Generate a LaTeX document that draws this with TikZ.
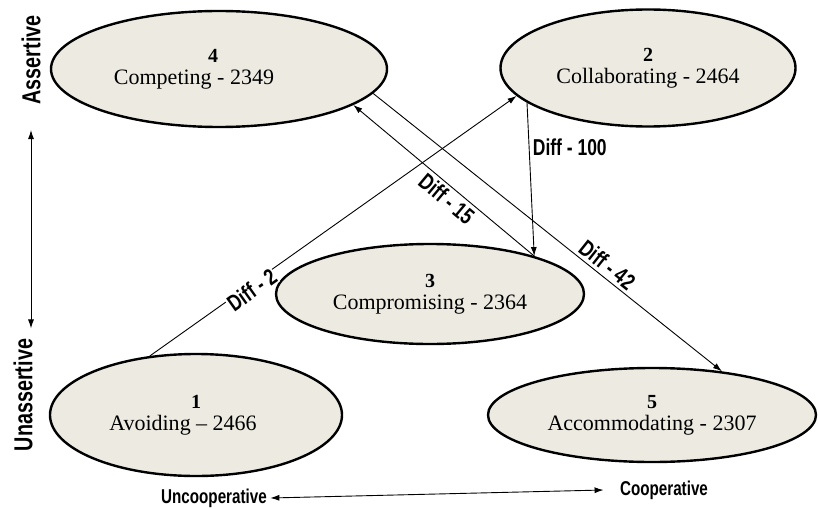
\documentclass[tikz,border=0pt]{standalone}
\usepackage{fontspec}
\setmainfont{Liberation Serif}
\newfontfamily\labelfont[FakeStretch=0.76]{Liberation Sans}
\usepackage{tikz}
\usetikzlibrary{shapes.geometric, arrows.meta, positioning}
\definecolor{modefill}{HTML}{EDEBE1}

\begin{document}
\begin{tikzpicture}[
    x=1pt, y=-1pt,
    mode/.style={ellipse, draw=black, fill=modefill, line width=2.4pt, inner sep=0pt, align=center, font=\fontsize{22}{22}\selectfont},
    diff/.style={font=\labelfont\bfseries\fontsize{23}{24}\selectfont},
    axis/.style={font=\labelfont\bfseries\fontsize{26}{28}\selectfont},
    arrow/.style={-{Latex[length=9pt,width=6pt]}, line width=0.9pt},
    both/.style={{Latex[length=9pt,width=6pt]}-{Latex[length=9pt,width=6pt]}, line width=0.9pt}
]
\useasboundingbox (0,0) rectangle (818,508);
\node[mode, minimum width=336pt, minimum height=116pt] (competing) at (219,69) {{\fontsize{20}{20}\selectfont\bfseries 4}\hspace*{12pt}\\Competing - 2349\hspace*{50pt}};
\node[mode, minimum width=295pt, minimum height=117pt] (collab) at (648,68) {{\fontsize{20}{20}\selectfont\bfseries 2}\\Collaborating - 2464};
\node[mode, minimum width=308pt, minimum height=100pt] (comprom) at (430,294) {{\fontsize{20}{20}\selectfont\bfseries 3}\\Compromising - 2364};
\node[mode, minimum width=292pt, minimum height=122pt] (avoiding) at (196,415) {{\fontsize{20}{20}\selectfont\bfseries 1}\\Avoiding -- 2466\hspace*{26pt}};
\node[mode, minimum width=328pt, minimum height=94pt] (accomm) at (652,415) {{\fontsize{20}{20}\selectfont\bfseries 5}\\Accommodating - 2307};
\node[axis, rotate=90] (assert) at (31,60) {Assertive};
\node[axis, rotate=90] (unassert) at (23,395) {Unassertive};
\node[axis, font=\labelfont\bfseries\fontsize{20}{22}\selectfont] (uncoop) at (214,498) {Uncooperative};
\node[axis, font=\labelfont\bfseries\fontsize{20}{22}\selectfont] (coop) at (664,490) {Cooperative};
\coordinate (axtop) at ([yshift=-22pt]assert.west);
\coordinate (axbot) at ([yshift=7pt]unassert.east);
\draw[both] (axtop) -- (axtop |- axbot);
\draw[both] (uncoop.east) -- ([xshift=-13pt]coop.west);
\draw[arrow] (avoiding.128) -- node[diff, sloped, fill=white, inner sep=1pt, pos=0.27, yshift=-5pt] {Diff - 2} (collab.192);
\draw[arrow] (collab.196) -- node[diff, right, pos=0.29] {Diff - 100} (comprom.20);
\draw[arrow] (comprom.20) -- node[diff, sloped, below, pos=0.44] {Diff - 15} (competing.-15);
\draw[arrow] (competing.-9) -- node[diff, sloped, above, pos=0.65] {Diff - 42} (accomm.32);
\end{tikzpicture}
\end{document}
